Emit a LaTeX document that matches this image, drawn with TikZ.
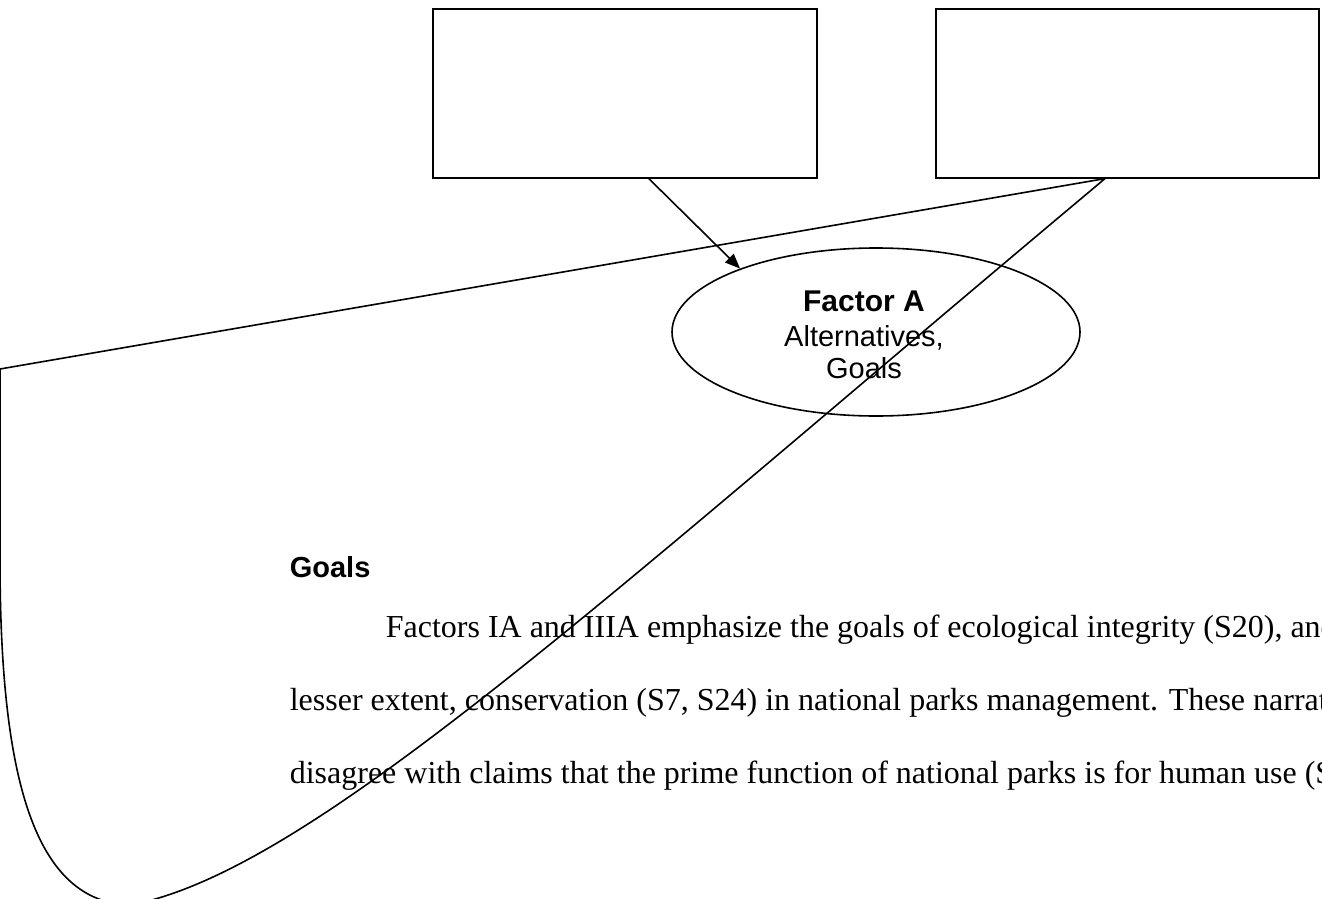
\documentclass[tikz,border=0pt]{standalone}
\usepackage{fontspec}
\setmainfont{Liberation Serif}
\newfontfamily\arialf{Liberation Sans}
\usetikzlibrary{arrows.meta,shapes.geometric,calc}
\begin{document}
\begin{tikzpicture}[x=1pt,y=-1pt,line width=1.6pt,
  emptybox/.style={draw,rectangle,inner sep=0pt,minimum width=384pt,minimum height=169pt,anchor=north west},
  factor/.style={draw,ellipse,inner sep=0pt,minimum width=408pt,minimum height=168pt},
  arr/.style={-{Triangle[length=15pt,width=12pt]}},
  boldlab/.style={anchor=base,inner sep=0pt,font=\arialf\bfseries\fontsize{30}{34}\selectfont},
  plainlab/.style={anchor=base,inner sep=0pt,font=\arialf\fontsize{29}{34}\selectfont},
  heading/.style={anchor=base west,inner sep=0pt,font=\arialf\bfseries\fontsize{29}{34}\selectfont},
  para/.style={anchor=base west,inner sep=0pt,font=\fontsize{32}{38}\selectfont}]
\useasboundingbox (0,0) rectangle (1322,899);
\fill[white] (0,0) rectangle (1322,899);
% boxes
\node[emptybox] (lb) at (432,8) {};
\node[emptybox,minimum width=383pt] (rb) at (935,8) {};
% ellipse
\node[factor] (fa) at (876,332) {};
\node[boldlab] (t1) at (864,311.7) {Factor A};
\node[plainlab] (t2) at (864,346) {Alternatives,};
\node[plainlab] (t3) at (864,378.3) {Goals};
% arrow
\draw[arr] ($(lb.south)+(24,0)$) -- (fa.155);
% free shape
\coordinate (s0) at ($(rb.south west)+(170,0)$);
\coordinate (c1) at (0,369);
\coordinate (c2) at (0,560);
\coordinate (c3) at (130,905);
\draw[line join=round] (s0) -- (c1) -- (c2) .. controls (0,780) and (35,902) .. (c3)
  .. controls (310,872) and (605,597) .. (s0);
% text
\node[heading] (gh) at (289,577) {Goals};
\node[para] (l1) at (385,637) {Factors IA and IIIA emphasize the goals of ecological integrity (S20), and};
\node[para] (l2) at (289,710) {lesser extent, conservation (S7, S24) in national parks management. These narrat};
\node[para] (l3) at (289,783) {disagree with claims that the prime function of national parks is for human use (S};
\end{tikzpicture}
\end{document}
